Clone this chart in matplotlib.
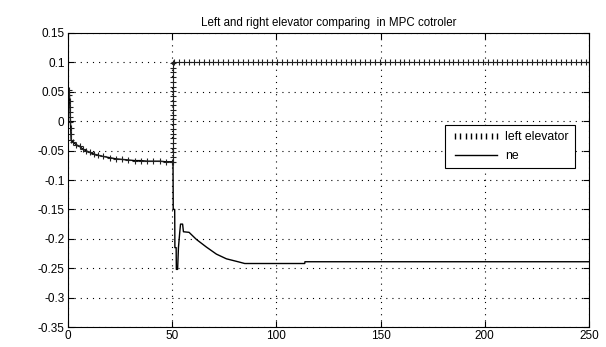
import numpy as np
import matplotlib
matplotlib.use("Agg")
import matplotlib.pyplot as plt
from matplotlib.lines import Line2D

# left elevator, start-up part (dense samples at t ~ 1, then decay)
t_start = [0.6, 0.7, 0.8, 0.9, 1.0, 1.1, 1.2, 1.3, 1.4, 1.5, 2.5, 4.0, 5.6, 7.0, 8.5,
           10.4, 12.5, 14.5, 17.0, 20.0, 23.0, 26.0, 29.0, 32.0, 35.0, 38.0, 41.0,
           44.0, 47.0, 50.0]
y_start = [0.053, 0.044, 0.035, 0.025, 0.016, 0.007, -0.002, -0.012, -0.022, -0.032,
           -0.036, -0.040, -0.043, -0.047, -0.050, -0.053, -0.056, -0.058, -0.060,
           -0.062, -0.064, -0.065, -0.066, -0.067, -0.067, -0.068, -0.068, -0.068,
           -0.069, -0.069]

# left elevator, jump to 0.1 at t = 50
t_jump = [50.2] * 22
y_jump = [-0.069, -0.061, -0.053, -0.045, -0.037, -0.029, -0.021, -0.013, -0.005,
          0.003, 0.011, 0.019, 0.027, 0.035, 0.043, 0.051, 0.059, 0.067, 0.075,
          0.083, 0.091, 0.099]

# left elevator, held at 0.1 until the end
t_hold = np.arange(51.0, 250.1, 2.35)
y_hold = np.full(len(t_hold), 0.1)

left_t = np.concatenate([t_start, t_jump, t_hold])
left_y = np.concatenate([y_start, y_jump, y_hold])

# right elevator ("ne")
ne_t = t_start + [50.4, 50.5, 51.2, 51.3, 51.9, 52.0, 52.6, 53.0, 53.6, 54.0, 55.0,
                  55.4, 58.1, 61.6, 66.4, 71.2, 76.0, 81.6, 84.8, 113.6, 113.7, 250.0]
ne_y = y_start + [-0.069, -0.150, -0.150, -0.215, -0.215, -0.252, -0.252, -0.215,
                  -0.190, -0.175, -0.175, -0.188, -0.189, -0.201, -0.214, -0.226,
                  -0.234, -0.239, -0.242, -0.242, -0.239, -0.239]

x_ticks = [0, 50, 100, 150, 200, 250]
y_ticks = [-0.35, -0.3, -0.25, -0.2, -0.15, -0.1, -0.05, 0, 0.05, 0.1, 0.15]
y_labels = ["-0.35", "-0.3", "-0.25", "-0.2", "-0.15", "-0.1", "-0.05", "0",
            "0.05", "0.1", "0.15"]

plt.rcParams["font.family"] = ["Liberation Sans", "DejaVu Sans"]
plt.rcParams["font.size"] = 8.5

fig = plt.figure(figsize=(6.06, 3.47), dpi=100)
ax = fig.add_axes([0.1122, 0.0576, 0.8597, 0.8473])

ax.plot(ne_t, ne_y, color="black", lw=1.0)
ax.plot(left_t, left_y, linestyle="none", marker="+", markersize=4.2,
        markeredgewidth=0.8, color="#202020")

ax.set_xlim(0, 250)
ax.set_ylim(-0.35, 0.15)
ax.set_xticks(x_ticks)
ax.set_xticklabels([str(v) for v in x_ticks])
ax.set_yticks(y_ticks)
ax.set_yticklabels(y_labels)
ax.tick_params(direction="in", length=4, width=0.8, top=True, right=True, pad=2.5)
ax.grid(True, color="black", linestyle=(0, (1, 4.5)), lw=0.8)
for s in ax.spines.values():
    s.set_linewidth(0.8)

ax.set_title("Left and right elevator comparing  in MPC cotroler", fontsize=8.3, pad=5)

handles = [Line2D([], [], linestyle="none", marker="|", markersize=5, color="black"),
           Line2D([], [], color="black", lw=1.0)]
leg = ax.legend(handles, ["left elevator", "ne"], loc="upper right",
                bbox_to_anchor=(0.973, 0.687), numpoints=9, handlelength=4.0,
                fontsize=8.8, fancybox=False, framealpha=1, edgecolor="black",
                borderaxespad=0, handletextpad=0.4, labelspacing=0.55,
                borderpad=0.5)
leg.get_frame().set_linewidth(0.8)

fig.savefig("out.png", dpi=100)
